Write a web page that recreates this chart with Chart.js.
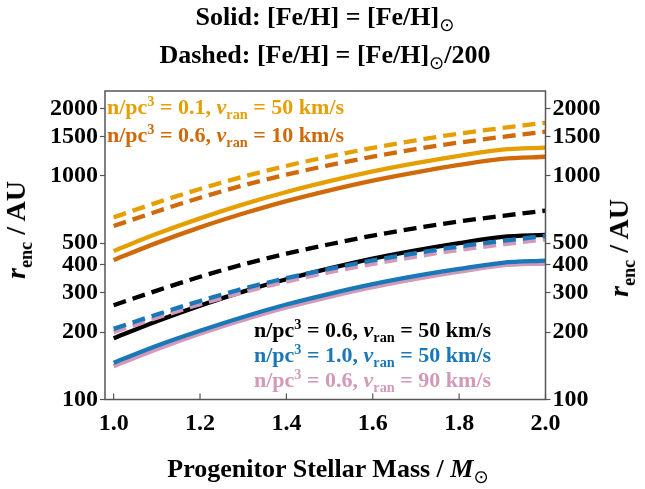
<!DOCTYPE html>
<html>
<head>
<meta charset="utf-8">
<script src="https://cdn.jsdelivr.net/npm/chart.js@4.4.1/dist/chart.umd.min.js"></script>
<style>
  html, body { margin: 0; padding: 0; background: #fff; }
  #wrap { position: relative; width: 645px; height: 489px; font-family: "Liberation Serif", "Times New Roman", serif; font-weight: bold; }
  #wrap canvas { position: absolute; left: 0; top: 0; }
  .txt { position: absolute; white-space: nowrap; line-height: 1; }
  .sun { font-family: "DejaVu Sans", sans-serif; font-weight: normal; font-size: 0.7em; }
  sub, sup { font-size: 0.65em; line-height: 0; }
  .title { left: 0; width: 650px; text-align: center; font-size: 26px; }
  .ytitle { font-size: 28px; transform-origin: center; }
  .leg { font-size: 22px; }
</style>
</head>
<body>
<div id="wrap">
  <canvas id="chart" width="645" height="489"></canvas>
  <div class="txt title" style="top:4px">Solid: [Fe/H] = [Fe/H]<sub class="sun">⊙</sub></div>
  <div class="txt title" style="top:42px">Dashed: [Fe/H] = [Fe/H]<sub class="sun">⊙</sub>/200</div>
  <div class="txt ytitle" style="left:-33px; top:216px; transform: rotate(-90deg);"><i>r</i><sub>enc</sub> / AU</div>
  <div class="txt ytitle" style="left:570px; top:234px; transform: rotate(-90deg);"><i>r</i><sub>enc</sub> / AU</div>
  <div class="txt title" style="top:456px; font-size:26px; width:656px">Progenitor Stellar Mass / <i>M</i><sub class="sun">⊙</sub></div>
  <div class="txt leg" style="left:107px; top:96px; color:#E69F00">n/pc<sup>3</sup> = 0.1, <i>v</i><sub>ran</sub> = 50 km/s</div>
  <div class="txt leg" style="left:107px; top:124px; color:#D0690A">n/pc<sup>3</sup> = 0.6, <i>v</i><sub>ran</sub> = 10 km/s</div>
  <div class="txt leg" style="left:254px; top:319px; color:#000">n/pc<sup>3</sup> = 0.6, <i>v</i><sub>ran</sub> = 50 km/s</div>
  <div class="txt leg" style="left:254px; top:344px; color:#1A78B8">n/pc<sup>3</sup> = 1.0, <i>v</i><sub>ran</sub> = 50 km/s</div>
  <div class="txt leg" style="left:254px; top:369px; color:#D29AB8">n/pc<sup>3</sup> = 0.6, <i>v</i><sub>ran</sub> = 90 km/s</div>
</div>
<script>
const masses = [1.0, 1.1, 1.2, 1.3, 1.4, 1.5, 1.6, 1.7, 1.8, 1.9, 2.0];

// solid: solar metallicity
const solidOrange = [462, 551, 646, 746, 848, 948, 1049, 1142, 1231, 1312, 1340];
const solidDarkOrange = [421, 502, 589, 679, 772, 863, 954, 1039, 1120, 1193, 1219];
const solidBlack = [188, 224, 263, 304, 345, 386, 427, 465, 501, 534, 545];
const solidBlue = [146, 174, 203, 234, 266, 297, 328, 357, 384, 409, 418];
const solidPink = [141, 168, 197, 227, 258, 288, 318, 346, 373, 398, 406];

// dashed: [Fe/H]sun / 200
const dashOrange = [653, 760, 875, 993, 1110, 1224, 1336, 1444, 1547, 1640, 1730];
const dashDarkOrange = [597, 694, 799, 907, 1014, 1118, 1220, 1319, 1411, 1496, 1578];
const dashBlack = [264, 307, 354, 402, 449, 495, 541, 585, 626, 663, 700];
const dashBlue = [207, 240, 276, 313, 349, 384, 419, 452, 484, 512, 540];
const dashPink = [200, 232, 267, 302, 337, 371, 404, 436, 467, 494, 521];

const xTicks = [1.0, 1.2, 1.4, 1.6, 1.8, 2.0];
const yTicks = [100, 200, 300, 400, 500, 1000, 1500, 2000];

const ORANGE = "#E69F00", DARKORANGE = "#D0690A", BLACK = "#000000", BLUE = "#1A78B8", PINK = "#D29AB8";

function series(values, color, dashed) {
  return {
    data: masses.map((m, i) => ({ x: m, y: values[i] })),
    borderColor: color,
    borderWidth: 4.3,
    borderDash: dashed ? [13, 7] : [],
    pointRadius: 0,
    fill: false,
    cubicInterpolationMode: "monotone",
    yAxisID: "y"
  };
}

// first in the list is drawn on top
const datasets = [
  series(dashBlue, BLUE, true),
  series(dashPink, PINK, true),
  series(solidBlack, BLACK, false),
  series(solidBlue, BLUE, false),
  series(solidPink, PINK, false),
  series(dashBlack, BLACK, true),
  series(solidOrange, ORANGE, false),
  series(solidDarkOrange, DARKORANGE, false),
  series(dashOrange, ORANGE, true),
  series(dashDarkOrange, DARKORANGE, true)
];

const tickFont = { family: "Liberation Serif", size: 24, weight: "bold" };

function yAxis(pos, width) {
  return {
    type: "logarithmic",
    position: pos,
    min: 100,
    max: 2400,
    afterBuildTicks: s => { s.ticks = yTicks.map(v => ({ value: v })); },
    afterFit: s => { s.width = width; },
    ticks: { color: "#000", font: tickFont, padding: 2, callback: v => String(v) },
    grid: { drawOnChartArea: false, drawTicks: true, tickLength: 5, color: "#555", tickWidth: 1.2 },
    border: { display: false }
  };
}

const framePlugin = {
  id: "frame",
  afterDraw(chart) {
    const { ctx, chartArea: a, scales } = chart;
    ctx.save();
    ctx.strokeStyle = "#555";
    ctx.lineWidth = 1.5;
    ctx.strokeRect(a.left, a.top, a.right - a.left, a.bottom - a.top);
    ctx.lineWidth = 1.2;
    xTicks.forEach(v => {
      const px = scales.x.getPixelForValue(v);
      ctx.beginPath();
      ctx.moveTo(px, a.bottom);
      ctx.lineTo(px, a.bottom - 6);
      ctx.stroke();
    });
    ctx.restore();
  }
};

new Chart(document.getElementById("chart"), {
  type: "line",
  data: { datasets },
  options: {
    responsive: false,
    animation: false,
    devicePixelRatio: 1,
    layout: { padding: { top: 91, left: 0, right: 0, bottom: 0 } },
    plugins: { legend: { display: false }, tooltip: { enabled: false }, title: { display: false } },
    scales: {
      x: {
        type: "linear",
        min: 0.98,
        max: 2.0,
        afterBuildTicks: s => { s.ticks = xTicks.map(v => ({ value: v })); },
        afterFit: s => { s.height = 89.5; },
        ticks: { color: "#000", font: tickFont, padding: 10, maxRotation: 0, callback: v => v.toFixed(1) },
        grid: { drawOnChartArea: false, drawTicks: false },
        border: { display: false }
      },
      y: yAxis("left", 105),
      y2: yAxis("right", 99.5)
    }
  },
  plugins: [framePlugin]
});
</script>
</body>
</html>
